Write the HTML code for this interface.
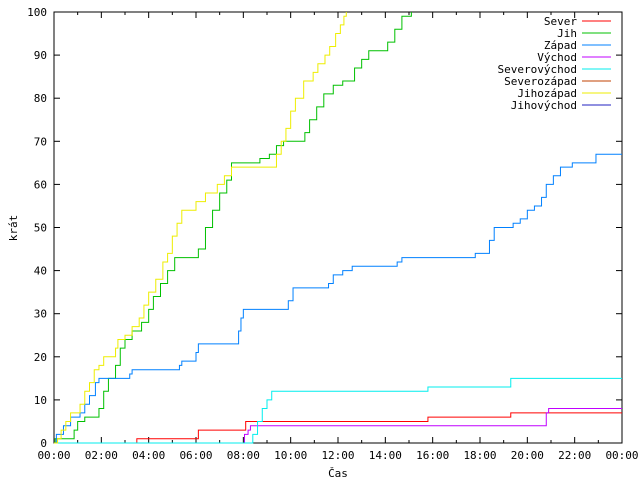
<!DOCTYPE html>
<html><head><meta charset="utf-8"><style>
body{margin:0;background:#fff}
svg{display:block;font-family:"DejaVu Sans Mono","Liberation Mono",monospace;font-size:11px}
</style></head><body>
<svg id="chart" width="640" height="480"></svg>
<script>
const xTickLabels=["00:00","02:00","04:00","06:00","08:00","10:00","12:00","14:00","16:00","18:00","20:00","22:00","00:00"];
const yTickValues=[0,10,20,30,40,50,60,70,80,90,100];
const seriesNames=["Sever","Jih","Západ","Východ","Severovýchod","Severozápad","Jihozápad","Jihovýchod"];
const seriesColors=["#ff0000","#00c000","#0080ff","#c000ff","#00eeee","#c04000","#eeee00","#2020c0"];
// [hour, value] step points
const severData=[[0,0],[3.5,1],[6.1,3],[8.1,5],[15.8,6],[19.3,7],[24,7]];
const jihData=[[0,0],[0.05,1],[0.85,3],[1.0,5],[1.3,6],[1.9,8],[2.1,12],[2.3,15],[2.6,18],[2.8,22],[3.0,24],[3.3,26],[3.7,28],[4.0,31],[4.2,34],[4.5,37],[4.8,40],[5.1,43],[6.1,45],[6.4,50],[6.7,54],[7.0,58],[7.3,61],[7.5,65],[8.7,66],[9.1,67],[9.4,69],[9.7,70],[10.6,72],[10.8,75],[11.1,78],[11.4,81],[11.8,83],[12.2,84],[12.7,87],[13.0,89],[13.3,91],[14.1,93],[14.4,96],[14.7,99],[15.1,100]];
const zapadData=[[0,0],[0.1,2],[0.4,4],[0.7,6],[1.1,7],[1.3,9],[1.5,11],[1.75,14],[1.9,15],[3.2,16],[3.3,17],[5.3,18],[5.4,19],[6.0,21],[6.1,23],[7.8,26],[7.9,29],[8.0,31],[9.9,33],[10.1,36],[11.6,37],[11.8,39],[12.2,40],[12.6,41],[14.5,42],[14.7,43],[17.8,44],[18.4,47],[18.6,50],[19.4,51],[19.7,52],[20.0,54],[20.3,55],[20.6,57],[20.8,60],[21.1,62],[21.4,64],[21.9,65],[22.9,67],[24,67]];
const vychodData=[[0,0],[8.05,2],[8.2,3],[8.3,4],[20.8,7],[20.9,8],[24,8]];
const severovychodData=[[0,0],[8.4,2],[8.6,5],[8.8,8],[9.0,10],[9.2,12],[15.8,13],[19.3,15],[24,15]];
const severozapadData=[];
const jihozapadData=[[0,0],[0.15,1],[0.3,3],[0.5,5],[0.7,7],[1.1,9],[1.3,12],[1.5,14],[1.7,17],[1.9,18],[2.1,20],[2.6,22],[2.7,24],[3.0,25],[3.3,27],[3.6,29],[3.8,32],[4.0,35],[4.3,38],[4.6,42],[4.8,44],[5.0,48],[5.2,51],[5.4,54],[6.0,56],[6.4,58],[6.9,60],[7.2,62],[7.5,64],[9.4,67],[9.6,70],[9.8,73],[10.0,77],[10.2,80],[10.55,84],[10.95,86],[11.15,88],[11.45,90],[11.65,92],[11.9,95],[12.1,97],[12.25,99],[12.35,100]];
const jihovychodData=[];
const allData=[severData,jihData,zapadData,vychodData,severovychodData,severozapadData,jihozapadData,jihovychodData];

const L=54,R=622,T=12,B=443,NS="http://www.w3.org/2000/svg";
const xs=h=>L+(R-L)*h/24, ys=v=>B-(B-T)*v/100;
const svg=document.getElementById('chart');
function mk(t,a){const e=document.createElementNS(NS,t);for(const k in a)e.setAttribute(k,a[k]);svg.appendChild(e);return e;}
// ticks
for(let h=0;h<=24;h++){const x=xs(h),len=h%2?3:6;
 const t1=mk('line',{x1:x,y1:B,x2:x,y2:B-len,stroke:'#000'});
 
 
 const t2=mk('line',{x1:x,y1:T,x2:x,y2:T+len,stroke:'#000'});
 
 }
xTickLabels.forEach((s,i)=>{const t=mk('text',{x:xs(i*2),y:459,'text-anchor':'middle'});t.textContent=s;
 
 });
yTickValues.forEach(v=>{const y=ys(v);
 const a=mk('line',{x1:L,y1:y,x2:L+6,y2:y,stroke:'#000'});
 
 
 const b=mk('line',{x1:R,y1:y,x2:R-6,y2:y,stroke:'#000'});
 
 
 const t=mk('text',{x:47,y:y+4,'text-anchor':'end'});t.textContent=v;
 
 });
const fr=mk('rect',{x:L,y:T,width:R-L,height:B-T,fill:'none',stroke:'#000'});


const xt=mk('text',{x:338,y:477,'text-anchor':'middle'});xt.textContent='Čas';


const yt=mk('text',{x:17,y:228,'text-anchor':'middle',transform:'rotate(-90 17 228)'});yt.textContent='krát';


// series
allData.forEach((d,i)=>{if(!d.length)return;let p='M'+xs(d[0][0])+','+ys(d[0][1]);
 for(let k=1;k<d.length;k++){p+=' H'+xs(d[k][0])+' V'+ys(d[k][1]);}
 const e=mk('path',{d:p,fill:'none',stroke:seriesColors[i],'stroke-width':1});
 
 });
// legend
seriesNames.forEach((n,i)=>{const y=21+i*12;
 const t=mk('text',{x:577,y:y+4,'text-anchor':'end'});t.textContent=n;
 
 
 const l=mk('line',{x1:582,y1:y,x2:611,y2:y,stroke:seriesColors[i]});
 
 });
</script>
</body></html>
